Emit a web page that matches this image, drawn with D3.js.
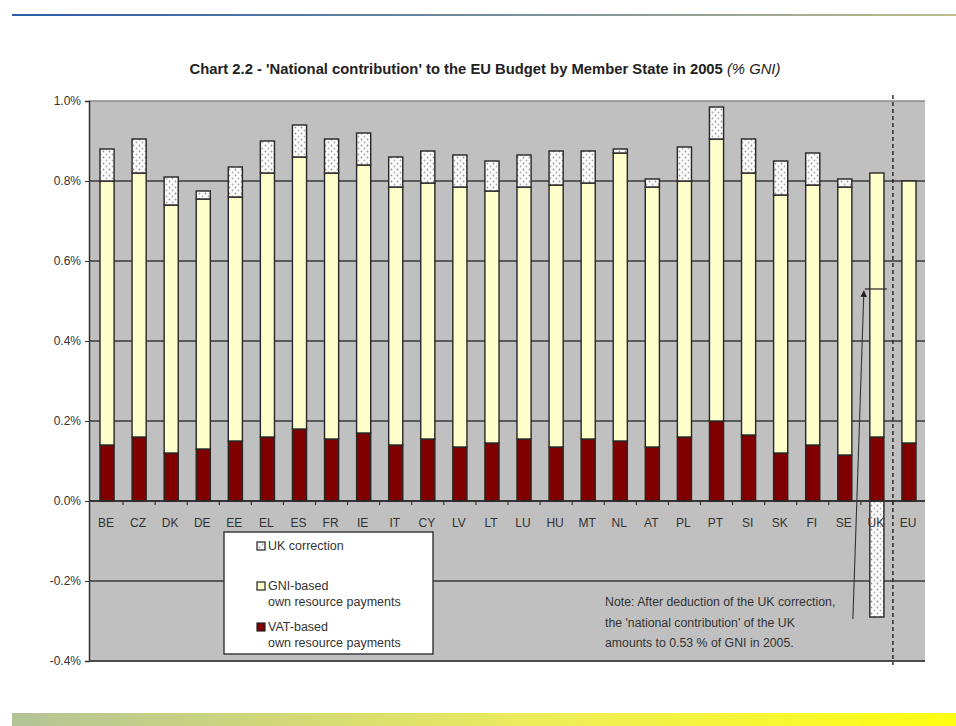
<!DOCTYPE html>
<html>
<head>
<meta charset="utf-8">
<script src="https://cdn.jsdelivr.net/npm/d3@7"></script>
<style>
  html, body { margin: 0; padding: 0; background: #fff; }
  svg { display: block; font-family: "Liberation Sans", Arial, sans-serif; }
</style>
</head>
<body>
<svg id="chart" width="956" height="726"></svg>
<script>
// Member states (plus EU average), 2005, % of GNI
const countries = ["BE","CZ","DK","DE","EE","EL","ES","FR","IE","IT","CY","LV","LT","LU","HU","MT","NL","AT","PL","PT","SI","SK","FI","SE","UK","EU"];
const vatShare  = [0.14,0.16,0.12,0.13,0.15,0.16,0.18,0.155,0.17,0.14,0.155,0.135,0.145,0.155,0.135,0.155,0.15,0.135,0.16,0.20,0.165,0.12,0.14,0.115,0.16,0.145];
const gniShare  = [0.66,0.66,0.62,0.625,0.61,0.66,0.68,0.665,0.67,0.645,0.64,0.65,0.63,0.63,0.655,0.64,0.72,0.65,0.64,0.705,0.655,0.645,0.65,0.67,0.66,0.655];
const ukCorrection = [0.08,0.085,0.07,0.02,0.075,0.08,0.08,0.085,0.08,0.075,0.08,0.08,0.075,0.08,0.085,0.08,0.01,0.02,0.085,0.08,0.085,0.085,0.08,0.02,-0.29,0];
const yTicks = [1.0,0.8,0.6,0.4,0.2,0.0,-0.2,-0.4];
const yTickLabels = ["1.0%","0.8%","0.6%","0.4%","0.2%","0.0%","-0.2%","-0.4%"];
const seriesNames = ["UK correction", "GNI-based", "VAT-based"];

const svg = d3.select("#chart");
const W = 956;

// --- page decoration: thin rule at top, gradient band at bottom
const defs = svg.append("defs");
const gTop = defs.append("linearGradient").attr("id","topRule");
gTop.append("stop").attr("offset","0%").attr("stop-color","#2a5cab");
gTop.append("stop").attr("offset","100%").attr("stop-color","#bcbc8c");
const gBot = defs.append("linearGradient").attr("id","bottomBand");
gBot.append("stop").attr("offset","0%").attr("stop-color","#b4c397");
gBot.append("stop").attr("offset","55%").attr("stop-color","#ecec5c");
gBot.append("stop").attr("offset","100%").attr("stop-color","#ffff14");

// dotted hatch used for the correction segment
const pat = defs.append("pattern").attr("id","hatch")
  .attr("patternUnits","userSpaceOnUse").attr("width",6).attr("height",6);
pat.append("rect").attr("width",6).attr("height",6).attr("fill","#fbfbfb");
pat.append("circle").attr("cx",1.5).attr("cy",1.5).attr("r",0.9).attr("fill","#9a9a9a");
pat.append("circle").attr("cx",4.5).attr("cy",4.5).attr("r",0.9).attr("fill","#b0b0b0");

svg.append("rect").attr("x",12).attr("y",14).attr("width",W-12).attr("height",2).attr("fill","url(#topRule)");
svg.append("rect").attr("x",12).attr("y",713).attr("width",W-12).attr("height",13).attr("fill","url(#bottomBand)");

// --- title
const title = svg.append("text").attr("x",485).attr("y",74)
  .attr("text-anchor","middle").attr("font-size",14.8).attr("font-weight","bold").attr("fill","#222");
title.append("tspan").text("Chart 2.2 - 'National contribution' to the EU Budget by Member State in 2005 ");
title.append("tspan").attr("font-style","italic").attr("font-weight","normal").text("(% GNI)");

// --- scales
const plot = {left: 89, right: 925, top: 101, bottom: 661};
const x = d3.scaleBand().domain(countries).range([91, plot.right]).padding(0);
const y = d3.scaleLinear().domain([-0.4, 1.0]).range([plot.bottom, plot.top]);
const barW = x.bandwidth() * 0.44;

// plot background
svg.append("rect").attr("x",plot.left).attr("y",plot.top)
  .attr("width",plot.right-plot.left).attr("height",plot.bottom-plot.top).attr("fill","#c0c0c0");

// gridlines
svg.append("g").selectAll("line").data(yTicks).join("line")
  .attr("x1",plot.left).attr("x2",plot.right)
  .attr("y1",d=>y(d)).attr("y2",d=>y(d))
  .attr("stroke",d=>d===1.0 ? "#8a8a8a" : "#3a3a3a")
  .attr("stroke-width",d=>d===1.0 ? 1.5 : 1.6);

// y axis
const yAxis = d3.axisLeft(y).tickValues(yTicks)
  .tickFormat((d,i)=>yTickLabels[i]).tickSize(4).tickPadding(4);
const gy = svg.append("g").attr("transform",`translate(${plot.left},0)`).call(yAxis);
gy.select(".domain").attr("stroke","#333").attr("stroke-width",1.5);
gy.selectAll(".tick line").attr("stroke","#333");
gy.selectAll("text").attr("font-size",12).attr("fill","#333")
  .attr("font-family","\"Liberation Sans\", Arial, sans-serif");

// stacked segments
const rows = countries.map((c,i)=>({c, vat: vatShare[i], gni: gniShare[i], corr: ukCorrection[i]}));
const bars = svg.append("g").attr("stroke","#262626").attr("stroke-width",1.4);
bars.selectAll(".vat").data(rows).join("rect").attr("class","vat")
  .attr("x",d=>x(d.c)+(x.bandwidth()-barW)/2).attr("width",barW)
  .attr("y",d=>y(d.vat)).attr("height",d=>y(0)-y(d.vat)).attr("fill","#800000");
bars.selectAll(".gni").data(rows).join("rect").attr("class","gni")
  .attr("x",d=>x(d.c)+(x.bandwidth()-barW)/2).attr("width",barW)
  .attr("y",d=>y(d.vat+d.gni)).attr("height",d=>y(d.vat)-y(d.vat+d.gni)).attr("fill","#ffffcc");
bars.selectAll(".corr").data(rows.filter(d=>d.corr!==0)).join("rect").attr("class","corr")
  .attr("x",d=>x(d.c)+(x.bandwidth()-barW)/2).attr("width",barW)
  .attr("y",d=>d.corr>0 ? y(d.vat+d.gni+d.corr) : y(0))
  .attr("height",d=>Math.abs(y(0)-y(d.corr)) )
  .attr("fill","url(#hatch)");

// x axis along zero line, ticks at category boundaries
const xAxis = svg.append("g");
xAxis.append("line").attr("x1",plot.left).attr("x2",plot.right).attr("y1",y(0)).attr("y2",y(0))
  .attr("stroke","#2a2a2a").attr("stroke-width",1.6);
xAxis.selectAll(".tk").data(countries.slice(1)).join("line").attr("class","tk")
  .attr("x1",d=>x(d)).attr("x2",d=>x(d)).attr("y1",y(0)).attr("y2",y(0)+4)
  .attr("stroke","#333").attr("stroke-width",1.2);
xAxis.selectAll(".lbl").data(countries).join("text").attr("class","lbl")
  .attr("x",d=>x(d)+x.bandwidth()/2 - 1).attr("y",y(0)+26)
  .attr("text-anchor","middle").attr("font-size",12).attr("fill","#333").text(d=>d);

// plot frame bottom
svg.append("line").attr("x1",plot.left).attr("x2",plot.right).attr("y1",plot.bottom).attr("y2",plot.bottom)
  .attr("stroke","#444").attr("stroke-width",1.5);

// separator between member states and EU average
svg.append("line").attr("x1",x("EU")).attr("x2",x("EU")).attr("y1",plot.top-6).attr("y2",plot.bottom+4)
  .attr("stroke","#222").attr("stroke-width",1.4).attr("stroke-dasharray","4,3");

// UK net contribution marker and arrow from the correction bar
const ukI = countries.indexOf("UK");
const ukCx = x("UK") + x.bandwidth()/2;
const ukNet = vatShare[ukI] + gniShare[ukI] + ukCorrection[ukI];
svg.append("line").attr("x1",ukCx-12).attr("x2",ukCx+10).attr("y1",y(ukNet)).attr("y2",y(ukNet))
  .attr("stroke","#222").attr("stroke-width",1.2);
defs.append("marker").attr("id","arrowHead").attr("viewBox","0 0 10 10").attr("refX",9).attr("refY",5)
  .attr("markerWidth",6).attr("markerHeight",6).attr("orient","auto")
  .append("path").attr("d","M0,0 L10,5 L0,10 z").attr("fill","#222");
svg.append("line").attr("x1",ukCx-24).attr("y1",y(ukCorrection[ukI])+2)
  .attr("x2",ukCx-13).attr("y2",y(ukNet)+2)
  .attr("stroke","#333").attr("stroke-width",1.1).attr("marker-end","url(#arrowHead)");

// note
const note = svg.append("text").attr("font-size",12.3).attr("fill","#333");
["Note: After deduction of the UK correction,",
 "the 'national contribution' of the UK",
 "amounts to 0.53 % of GNI in 2005."].forEach((t,i)=>{
  note.append("tspan").attr("x",605).attr("y",606+i*20.5).text(t);
});

// legend
const lg = svg.append("g");
lg.append("rect").attr("x",224).attr("y",532).attr("width",209).attr("height",122)
  .attr("fill","#fff").attr("stroke","#333").attr("stroke-width",1.4);
const legendFill = ["url(#hatch)","#ffffcc","#800000"];
const legendY = [546, 586, 627];
const legendSub = [null, "own resource payments", "own resource payments"];
seriesNames.forEach((name,i)=>{
  lg.append("rect").attr("x",257).attr("y",legendY[i]-4).attr("width",8).attr("height",8)
    .attr("fill",legendFill[i]).attr("stroke","#222").attr("stroke-width",1.2);
  lg.append("text").attr("x",268).attr("y",legendY[i]+4).attr("font-size",12.5).attr("fill","#333").text(name);
  if (legendSub[i]) lg.append("text").attr("x",268).attr("y",legendY[i]+20)
    .attr("font-size",12.5).attr("fill","#333").text(legendSub[i]);
});
</script>
</body>
</html>
